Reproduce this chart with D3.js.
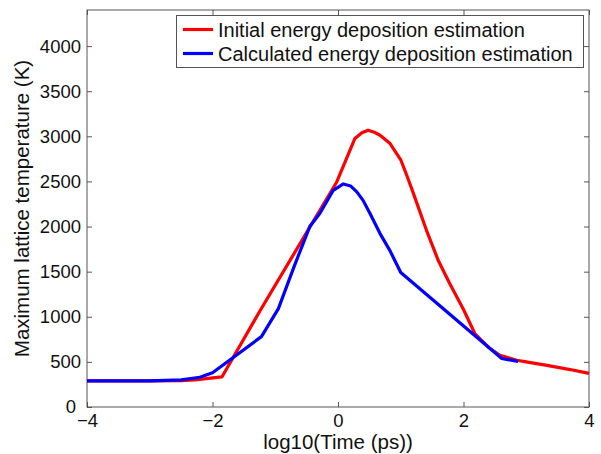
<!DOCTYPE html>
<html>
<head>
<meta charset="utf-8">
<script src="https://cdn.jsdelivr.net/npm/d3@7"></script>
<style>
body { margin:0; background:#fff; }
text { font-family: "Liberation Sans", Arial, sans-serif; fill:#111; }
</style>
</head>
<body>
<div id="graph"></div>
<script>
// log10(time) vs temperature
var initialX = [-4, -3, -2.5, -2.28, -1.85, -1.24, -0.02, 0.27, 0.38, 0.48, 0.58, 0.67, 0.83, 1.0, 1.1, 1.2, 1.41, 1.6, 1.78, 2.0, 2.18, 2.4, 2.58, 2.85, 3.0, 3.33, 3.7, 4.0];
var initialY = [290, 290, 293, 300, 333, 1070, 2494, 2976, 3040, 3068, 3045, 3012, 2920, 2740, 2560, 2370, 1958, 1620, 1368, 1080, 814, 660, 573, 518, 500, 462, 415, 372];
var calcX = [-4, -3, -2.5, -2.2, -2.0, -1.22, -0.95, -0.7, -0.45, -0.29, -0.075, 0.085, 0.2, 0.3, 0.4, 0.51, 0.67, 0.83, 1.0, 2.61, 2.87];
var calcY = [290, 290, 300, 330, 380, 780, 1090, 1556, 2000, 2144, 2402, 2472, 2450, 2384, 2290, 2144, 1922, 1730, 1490, 537, 505];
var xTicks = [-4, -2, 0, 2, 4];
var yTicks = [0, 500, 1000, 1500, 2000, 2500, 3000, 3500, 4000];
var seriesNames = ["Initial energy deposition estimation", "Calculated energy deposition estimation"];
var seriesColors = ["#ff0000", "#0000ff"];

var width = 601, height = 454;
var margin = {left:87, top:10, right:12, bottom:47};
var tickFont = 18.5, labelFont = 20.5, legendFont = 20;

var svg = d3.select('#graph').append("svg").attr("width", width).attr("height", height);

var x = d3.scaleLinear().domain([-4, 4]).range([margin.left, width - margin.right]);
var y = d3.scaleLinear().domain([0, 4400]).range([height - margin.bottom, margin.top]);

var axisColor = "#555";
var tickLen = 5;

function styleAxis(g){
  g.select(".domain").remove();
  g.selectAll(".tick line").attr("stroke", axisColor);
  g.selectAll(".tick text").attr("font-size", tickFont).attr("fill", "#111");
}

// bottom axis, ticks inside
svg.append("g")
  .attr("transform","translate(0,"+y(0)+")")
  .call(d3.axisBottom(x).tickValues(xTicks).tickSizeInner(-tickLen).tickSizeOuter(0).tickPadding(7)
        .tickFormat(function(d){ return d < 0 ? "\u2212" + Math.abs(d) : d; }))
  .call(styleAxis);
// top ticks
svg.append("g")
  .attr("transform","translate(0,"+y(4400)+")")
  .call(d3.axisTop(x).tickValues(xTicks).tickSizeInner(-tickLen).tickSizeOuter(0).tickFormat(""))
  .call(styleAxis);
// left axis
var yAxisG = svg.append("g")
  .attr("transform","translate("+x(-4)+",0)")
  .call(d3.axisLeft(y).tickValues(yTicks).tickSizeInner(-tickLen).tickSizeOuter(0).tickPadding(6).tickFormat(d3.format("d")))
  .call(styleAxis);
// keep the corner "0" clear of the "-4" below it
yAxisG.selectAll(".tick text").filter(function(d){ return d === 0; }).attr("x", -11);
// right ticks
svg.append("g")
  .attr("transform","translate("+x(4)+",0)")
  .call(d3.axisRight(y).tickValues(yTicks).tickSizeInner(-tickLen).tickSizeOuter(0).tickFormat(""))
  .call(styleAxis);

// box
svg.append("rect")
  .attr("x", x(-4)).attr("y", y(4400))
  .attr("width", x(4) - x(-4)).attr("height", y(0) - y(4400))
  .attr("fill","none").attr("stroke", axisColor).attr("stroke-width", 1);

var line = d3.line().x(function(d){ return x(d[0]); }).y(function(d){ return y(d[1]); });

var series = [d3.zip(initialX, initialY), d3.zip(calcX, calcY)];
series.forEach(function(s, i){
  svg.append("path")
    .datum(s)
    .attr("d", line)
    .attr("fill","none")
    .attr("stroke", seriesColors[i])
    .attr("stroke-width", 3.2)
    .attr("stroke-linejoin","round");
});

// legend
var legend = svg.append("g");
legend.append("rect")
  .attr("x", 176.5).attr("y", 15.5).attr("width", 407).attr("height", 52)
  .attr("fill","#fff").attr("stroke", axisColor).attr("stroke-width", 1);
seriesNames.forEach(function(name, i){
  var ly = 29.5 + i*24;
  legend.append("line")
    .attr("x1", 183).attr("x2", 213).attr("y1", ly).attr("y2", ly)
    .attr("stroke", seriesColors[i]).attr("stroke-width", 3.2);
  legend.append("text")
    .attr("x", 218).attr("y", ly).attr("dy", "0.35em")
    .attr("font-size", legendFont)
    .text(name);
});

// axis labels
svg.append("text")
  .attr("text-anchor","middle")
  .attr("x", (x(-4)+x(4))/2).attr("y", 449)
  .attr("font-size", labelFont)
  .text("log10(Time (ps))");

svg.append("text")
  .attr("text-anchor","middle")
  .attr("transform","translate(29,"+((y(0)+y(4400))/2)+") rotate(-90)")
  .attr("font-size", labelFont)
  .text("Maximum lattice temperature (K)");
</script>
</body>
</html>
